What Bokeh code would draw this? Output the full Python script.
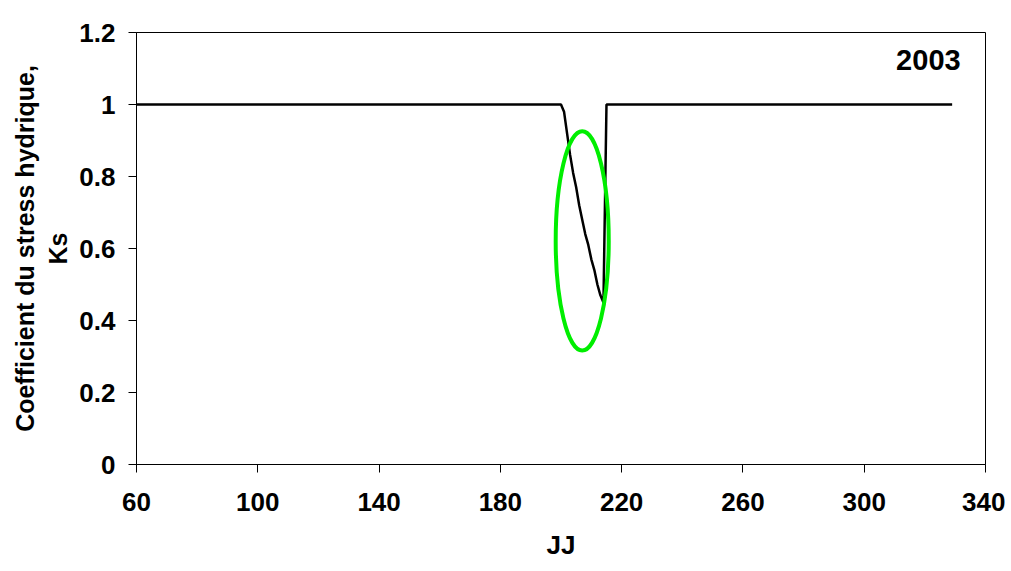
from bokeh.plotting import figure
from bokeh.models import Range1d, FixedTicker, CustomJSTickFormatter, Label
from bokeh.embed import file_html
from bokeh.resources import INLINE

# Data
days = [60, 200, 201, 202, 203, 204, 205, 206, 207, 208, 209, 210, 211, 212, 213, 214, 215, 329]
ks = [1.0, 1.0, 0.98, 0.92, 0.86, 0.81, 0.77, 0.72, 0.68, 0.64, 0.61, 0.57, 0.54, 0.50, 0.47, 0.45, 1.0, 1.0]
x_ticks = [60, 100, 140, 180, 220, 260, 300, 340]
y_ticks = [0, 0.2, 0.4, 0.6, 0.8, 1, 1.2]
ellipse_center = (207.0, 0.621)
ellipse_size = (17.5, 0.609)
year_label = "2003"
x_title = "JJ"
y_title = "Coefficient du stress hydrique,\nKs"

FONT = "'Liberation Sans Narrow', 'Liberation Sans', Arial, sans-serif"

p = figure(width=1005, height=563, output_backend="svg", toolbar_location=None,
           x_range=Range1d(60, 340), y_range=Range1d(0, 1.2),
           min_border_left=136, min_border_right=20, min_border_top=32, min_border_bottom=99)
p.grid.visible = False
p.outline_line_color = "black"
p.outline_line_width = 1
p.background_fill_color = "white"
p.border_fill_color = "white"

p.line(days, ks, line_color="black", line_width=2.5)
p.ellipse(x=[ellipse_center[0]], y=[ellipse_center[1]], width=ellipse_size[0], height=ellipse_size[1],
          fill_color=None, line_color="#00ee00", line_width=4)

fmt = CustomJSTickFormatter(code="return tick.toString();")
p.xaxis.ticker = FixedTicker(ticks=x_ticks)
p.yaxis.ticker = FixedTicker(ticks=y_ticks)
p.xaxis.formatter = fmt
p.yaxis.formatter = fmt
for ax in (p.xaxis, p.yaxis):
    ax.axis_line_color = "black"
    ax.major_tick_line_color = "black"
    ax.major_tick_in = 0
    ax.major_tick_out = 8
    ax.minor_tick_line_color = None
    ax.major_label_text_font = FONT
    ax.major_label_text_font_style = "bold"
    ax.major_label_text_font_size = "26px"
    ax.major_label_text_color = "black"
    ax.axis_label_text_font = FONT
    ax.axis_label_text_font_style = "bold"
    ax.axis_label_text_color = "black"
p.xaxis.major_label_standoff = 20
p.yaxis.major_label_standoff = 13
p.xaxis.axis_label = x_title
p.xaxis.axis_label_text_font_size = "26px"
p.xaxis.axis_label_standoff = 16
p.yaxis.axis_label = y_title
p.yaxis.axis_label_text_font_size = "25px"
p.yaxis.axis_label_standoff = 4

p.add_layout(Label(x=331.8, y=1.125, text=year_label, text_align="right", text_baseline="middle",
                   text_font=FONT, text_font_style="bold", text_font_size="29px", text_color="black"))

open("out.html", "w").write(file_html(p, INLINE))
